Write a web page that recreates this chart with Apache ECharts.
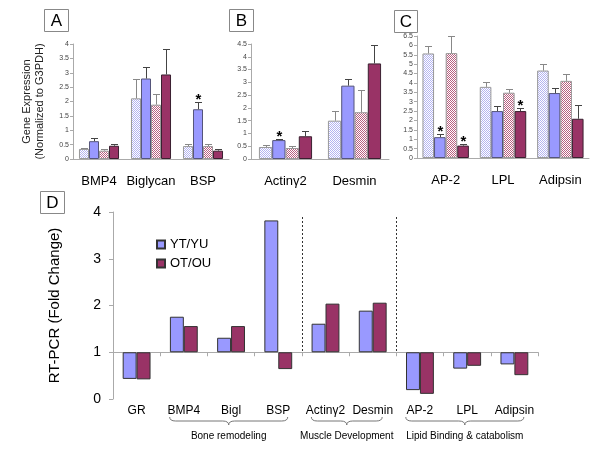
<!DOCTYPE html>
<html><head><meta charset="utf-8">
<script src="https://cdn.jsdelivr.net/npm/echarts@6/dist/echarts.min.js"></script>
<style>html,body{margin:0;padding:0;background:#fff}#c{width:600px;height:450px}</style>
</head><body><div id="c"></div>
<script>
// ---------- data ----------
const catsA = ['BMP4', 'Biglycan', 'BSP'];
const catsB = ['Actin\u03b32', 'Desmin'];
const catsC = ['AP-2', 'LPL', 'Adipsin'];
// series order: YU (hatched blue), YT (blue), OU (hatched pink), OT (maroon)
const aYU = [0.35, 2.11, 0.45], aYUsd = [0.03, 0.66, 0.06];
const aYT = [0.62, 2.80, 1.73], aYTsd = [0.11, 0.40, 0.24];
const aOU = [0.29, 1.89, 0.45], aOUsd = [0.06, 0.38, 0.06];
const aOT = [0.46, 2.94, 0.29], aOTsd = [0.06, 0.90, 0.05];
const aStar = [[0,0,0],[0,0,1],[0,0,0],[0,0,0]];

const bYU = [0.47, 1.50], bYUsd = [0.06, 0.38];
const bYT = [0.74, 2.87], bYTsd = [0.05, 0.26];
const bOU = [0.43, 1.83], bOUsd = [0.08, 0.87];
const bOT = [0.89, 3.74], bOTsd = [0.21, 0.71];
const bStar = [[0,0],[1,0],[0,0],[0,0]];

const cYU = [5.57, 3.79, 4.66], cYUsd = [0.41, 0.28, 0.36];
const cYT = [1.11, 2.50, 3.46], cYTsd = [0.18, 0.25, 0.29];
const cOU = [5.59, 3.48, 4.11], cOUsd = [0.89, 0.22, 0.39];
const cOT = [0.66, 2.50, 2.09], cOTsd = [0.09, 0.18, 0.71];
const cStar = [[0,0,0],[1,0,0],[0,0,0],[1,1,0]];

const catsD = ['GR', 'BMP4', 'Bigl', 'BSP', 'Actin\u03b32', 'Desmin', 'AP-2', 'LPL', 'Adipsin'];
const dYT = [0.43, 1.76, 1.31, 3.82, 1.61, 1.89, 0.19, 0.65, 0.74];
const dOT = [0.42, 1.56, 1.56, 0.64, 2.04, 2.06, 0.11, 0.71, 0.51];
const dGroups = [[1, 3, 'Bone remodeling'], [4, 5, 'Muscle Development'], [6, 8, 'Lipid Binding & catabolism']];
const dSeparators = [3, 5];
const dBase = 1;

// ---------- styles ----------
const FONT = 'Liberation Sans, Arial, sans-serif';
function pattern(c) {
  const cv = document.createElement('canvas'); cv.width = 2; cv.height = 2;
  const x = cv.getContext('2d');
  x.fillStyle = '#ffffff'; x.fillRect(0, 0, 2, 2);
  x.fillStyle = c; x.fillRect(0, 0, 1, 1); x.fillRect(1, 1, 1, 1);
  return { image: cv, repeat: 'repeat' };
}
const styles = [
  { color: pattern('#b4b4f0'), borderColor: '#999999' },
  { color: '#9999ff', borderColor: '#55557a' },
  { color: pattern('#b86080'), borderColor: '#999999' },
  { color: '#993366', borderColor: '#3a2030' }
];
const names = ['YU', 'YT', 'OU', 'OT'];

const panels = [
  { cats: catsA, vals: [aYU, aYT, aOU, aOT], sds: [aYUsd, aYTsd, aOUsd, aOTsd], star: aStar, max: 4, gap: 0.23,
    grid: { left: 73, top: 44, width: 156, height: 115 } },
  { cats: catsB, vals: [bYU, bYT, bOU, bOT], sds: [bYUsd, bYTsd, bOUsd, bOTsd], star: bStar, max: 4.5, gap: 0.23,
    grid: { left: 251, top: 44, width: 138, height: 115 } },
  { cats: catsC, vals: [cYU, cYT, cOU, cOT], sds: [cYUsd, cYTsd, cOUsd, cOTsd], star: cStar, max: 6.5, gap: 0.19,
    grid: { left: 417, top: 36, width: 172, height: 122 } }
];

const grids = [], xAxes = [], yAxes = [], series = [];
panels.forEach((p, pi) => {
  grids.push(p.grid);
  xAxes.push({ type: 'category', gridIndex: pi, data: p.cats,
    axisLine: { lineStyle: { color: '#aaaaaa' } }, axisTick: { show: false },
    axisLabel: { fontSize: 13, color: '#000', margin: 16, fontFamily: FONT, interval: 0 } });
  yAxes.push({ type: 'value', gridIndex: pi, min: 0, max: p.max, interval: 0.5,
    splitLine: { show: false },
    axisLine: { show: true, lineStyle: { color: '#aaaaaa' } },
    axisTick: { show: true, length: 3, lineStyle: { color: '#aaaaaa' } },
    axisLabel: { fontSize: 7, color: '#444', margin: 4, fontFamily: FONT },
    name: pi === 0 ? 'Gene Expression\n(Normalized to G3PDH)' : '',
    nameLocation: 'middle', nameRotate: 90, nameGap: 27,
    nameTextStyle: { fontSize: 11, color: '#222', fontFamily: FONT, lineHeight: 13 } });
  p.vals.forEach((v, si) => {
    series.push({ type: 'bar', name: names[si] + pi, xAxisIndex: pi, yAxisIndex: pi, data: v,
      barGap: '0%', barCategoryGap: (p.gap * 100) + '%',
      itemStyle: { color: styles[si].color, borderColor: styles[si].borderColor, borderWidth: 1 },
      emphasis: { disabled: true }, animation: false });
  });
  const errData = [];
  p.vals.forEach((v, si) => v.forEach((val, ci) => errData.push([ci, val, p.sds[si][ci], si, p.star[si][ci]])));
  const gap = p.gap;
  series.push({ type: 'custom', xAxisIndex: pi, yAxisIndex: pi, z: 5, clip: false, animation: false,
    encode: { x: 0, y: 1 }, data: errData,
    renderItem: function (params, api) {
      const cat = api.value(0), val = api.value(1), sd = api.value(2), k = api.value(3), st = api.value(4);
      const band = api.size([1, 0])[0];
      const gw = band * (1 - gap), bw = gw / 4;
      const cx = Math.round(api.coord([cat, 0])[0] - gw / 2 + (k + 0.5) * bw) + 0.5;
      const y0 = api.coord([cat, val])[1];
      const y1 = Math.round(api.coord([cat, val + sd])[1]) + 0.5;
      const col = (k === 0 || k === 2) ? '#888888' : '#444444';
      const ch = [
        { type: 'line', shape: { x1: cx, y1: y0, x2: cx, y2: y1 }, style: { stroke: col, lineWidth: 1 } },
        { type: 'line', shape: { x1: cx - 3.5, y1: y1, x2: cx + 3.5, y2: y1 }, style: { stroke: col, lineWidth: 1 } }
      ];
      if (st) ch.push({ type: 'text', style: { text: '*', x: cx, y: y1 + 5, textAlign: 'center', textVerticalAlign: 'bottom',
        font: 'bold 15px ' + FONT, fill: '#000' } });
      return { type: 'group', children: ch };
    } });
});

// ---------- panel D ----------
grids.push({ left: 113, top: 212, width: 425, height: 187 });
xAxes.push({ type: 'category', gridIndex: 3, data: catsD,
  axisLine: { onZero: true, lineStyle: { color: '#aaaaaa' } },
  axisTick: { show: true, interval: 0, length: 4, lineStyle: { color: '#aaaaaa' } },
  axisLabel: { show: false } });
xAxes.push({ type: 'category', gridIndex: 3, data: catsD, position: 'bottom',
  axisLine: { show: false, onZero: false }, axisTick: { show: false },
  axisLabel: { fontSize: 12, color: '#000', margin: 6, interval: 0, fontFamily: FONT } });
yAxes.push({ type: 'value', gridIndex: 3, min: -dBase, max: 4 - dBase, interval: 1,
  splitLine: { show: false },
  axisLine: { show: true, onZero: false, lineStyle: { color: '#aaaaaa' } },
  axisTick: { show: true, length: 4, lineStyle: { color: '#aaaaaa' } },
  axisLabel: { fontSize: 14, color: '#000', margin: 12, fontFamily: FONT, formatter: v => String(Math.round(v + dBase)) },
  name: 'RT-PCR (Fold Change)', nameLocation: 'middle', nameRotate: 90, nameGap: 51,
  nameTextStyle: { fontSize: 15, color: '#000', fontFamily: FONT } });

const dStyles = [{ color: '#9999ff', borderColor: '#333333' }, { color: '#993366', borderColor: '#333333' }];
[['YT/YU', dYT], ['OT/OU', dOT]].forEach((s, i) => {
  series.push({ type: 'bar', name: s[0], xAxisIndex: 3, yAxisIndex: 3,
    data: s[1].map(v => +(v - dBase).toFixed(3)),
    barGap: '0%', barCategoryGap: '41%',
    itemStyle: { color: dStyles[i].color, borderColor: dStyles[i].borderColor, borderWidth: 1 },
    emphasis: { disabled: true }, animation: false });
});
// separators
series.push({ type: 'custom', xAxisIndex: 3, yAxisIndex: 3, clip: false, animation: false, silent: true,
  encode: { x: 0, y: 1 }, data: dSeparators.map(i => [i, 0]),
  renderItem: function (params, api) {
    const i = api.value(0);
    const x = Math.round((api.coord([i, 0])[0] + api.coord([i + 1, 0])[0]) / 2) + 0.5;
    const yT = api.coord([i, 4 - dBase])[1] + 5, yB = api.coord([i, 0])[1];
    return { type: 'line', shape: { x1: x, y1: yT, x2: x, y2: yB },
      style: { stroke: '#333', lineWidth: 1, lineDash: [2, 2] } };
  } });
// group braces
series.push({ type: 'custom', xAxisIndex: 3, yAxisIndex: 3, clip: false, animation: false, silent: true,
  encode: { x: [0, 1], y: 2 }, data: dGroups.map(g => [g[0], g[1], -dBase, g[2]]),
  renderItem: function (params, api) {
    const a = api.value(0), b = api.value(1), label = dGroups[params.dataIndex][2];
    const band = api.size([1, 0])[0];
    const xL = api.coord([a, 0])[0] - band / 2 + band * 0.2;
    const xR = api.coord([b, 0])[0] + band / 2 - band * 0.3;
    const bottom = params.coordSys.y + params.coordSys.height;
    const y = bottom + 18, h = 4, m = (xL + xR) / 2;
    const d = `M${xL},${y} Q${xL},${y + h} ${xL + 6},${y + h} L${m - 6},${y + h} Q${m},${y + h} ${m},${y + 2 * h} ` +
      `Q${m},${y + h} ${m + 6},${y + h} L${xR - 6},${y + h} Q${xR},${y + h} ${xR},${y}`;
    return { type: 'group', children: [
      { type: 'path', shape: { pathData: d }, style: { stroke: '#777', lineWidth: 1, fill: null } },
      { type: 'text', style: { text: label, x: m, y: bottom + 37, textAlign: 'center', textVerticalAlign: 'middle',
        font: '10px ' + FONT, fill: '#000' } }
    ] };
  } });

function box(letter, x, y, w, h) {
  return { type: 'group', children: [
    { type: 'rect', shape: { x: x + 0.5, y: y + 0.5, width: w, height: h }, style: { fill: '#fff', stroke: '#888', lineWidth: 1 } },
    { type: 'text', style: { text: letter, x: x + w / 2 + 0.5, y: y + h / 2 + 1, textAlign: 'center', textVerticalAlign: 'middle',
      font: '17px ' + FONT, fill: '#000' } }
  ] };
}

const chart = echarts.init(document.getElementById('c'), null, { renderer: 'canvas' });
chart.setOption({
  backgroundColor: '#fff',
  animation: false,
  textStyle: { fontFamily: FONT },
  grid: grids, xAxis: xAxes, yAxis: yAxes, series: series,
  legend: { data: ['YT/YU', 'OT/OU'], orient: 'vertical', left: 151, top: 233, itemWidth: 8, itemHeight: 8, itemGap: 6,
    icon: 'rect', textStyle: { fontSize: 13, color: '#000', fontFamily: FONT }, selectedMode: false },
  graphic: [box('A', 44, 9, 24, 22), box('B', 229, 9, 24, 22), box('C', 394, 10, 23, 22), box('D', 40, 191, 24, 22)]
});
</script>
</body></html>
